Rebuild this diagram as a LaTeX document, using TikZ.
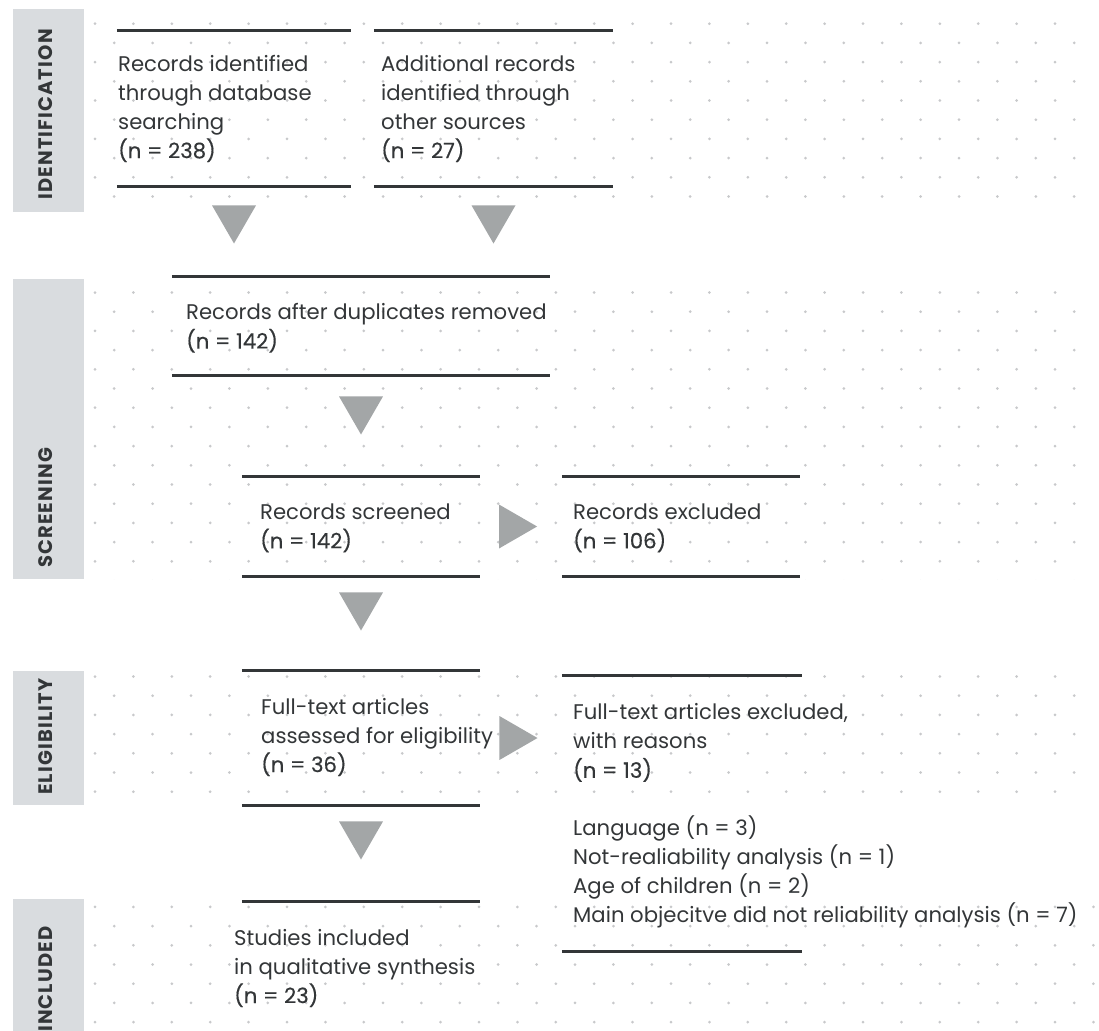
\documentclass[tikz,border=0pt]{standalone}
\usepackage{fontspec}
\setmainfont{Poppins}
\newfontfamily\countfont{Poppins}[FakeBold=0.4]
\usetikzlibrary{positioning,shapes.geometric}

\definecolor{ink}{RGB}{51,54,56}
\definecolor{bargray}{RGB}{217,220,223}
\definecolor{arrowgray}{RGB}{163,166,167}
\definecolor{dotgray}{RGB}{200,201,203}

\newcommand{\cnt}[1]{{\countfont #1}}

\begin{document}
\begin{tikzpicture}[
    x=1pt, y=-1pt,
    node distance=18pt,
    frame/.style={inner sep=0pt},
    txt/.style={anchor=west, align=left, inner sep=0pt, text=ink, font=\fontsize{21.2}{29}\selectfont},
    section/.style={rotate=90, anchor=west, inner sep=0pt, text=ink, font=\fontsize{19.5}{19.5}\selectfont\bfseries\addfontfeatures{LetterSpace=6}},
    band/.style={fill=bargray},
    rule/.style={draw=ink, line width=3pt},
    tridown/.style={regular polygon, regular polygon sides=3, shape border rotate=180, fill=arrowgray, minimum size=50.8pt, inner sep=0pt},
    triright/.style={regular polygon, regular polygon sides=3, shape border rotate=-90, fill=arrowgray, minimum size=50.8pt, inner sep=0pt}
]

\useasboundingbox (0,0) rectangle (1099,1030);

% Dotted background
\begin{scope}
\clip (90,9) rectangle (1078,212) (90,279) rectangle (1078,579) (90,671) rectangle (1078,805) (90,899) rectangle (1099,1030);
\foreach \k in {0,...,52}
  \foreach \i in {0,...,26}
    \fill[dotgray] ({95+38.4*\i+19.2*mod(\k,2)},{23.7+19.2*\k}) circle (1.5pt);
\end{scope}

% Section bars
\fill[band] (13,9) rectangle (84,212);
\fill[band] (13,279) rectangle (84,579);
\fill[band] (13,671) rectangle (84,805);
\fill[band] (13,899) rectangle (84,1043);
\node[section] (ident) at (46,200) {IDENTIFICATION};
\node[section] (screen) at (46,568) {SCREENING};
\node[section] (elig) at (46,795) {ELIGIBILITY};
\node[section] (incl) at (46,1032) {INCLUDED};

% Frames
\node[frame, minimum width=234pt, minimum height=155pt] (recA) at (234,108.5) {};
\node[frame, minimum width=239pt, minimum height=155pt] (recB) at (493.5,108.5) {};
\node[frame, minimum width=378pt, minimum height=98pt] (recC) at (361,326) {};
\node[frame, minimum width=238pt, minimum height=99pt] (recD) at (361,526.5) {};
\node[frame, minimum width=238pt, minimum height=99pt] (recE) at (681,526.5) {};
\node[frame, minimum width=238pt, minimum height=134pt] (recG) at (361,738) {};
\node[frame, minimum width=240pt, minimum height=275pt] (recF) at (682,813.5) {};
\node[frame, minimum width=238pt, minimum height=128pt] (recH) at (361,966) {};

\foreach \b in {recA,recB,recC,recD,recE,recG,recF}
  \draw[rule] (\b.north west) -- (\b.north east) (\b.south west) -- (\b.south east);
\draw[rule] (recH.north west) -- (recH.north east);

% Texts
\node[txt] (txtA) at (118,108.5) {Records identified\\through database\\searching\\\cnt{(n = 238)}};
\node[txt] (txtB) at (381,108.5) {Additional records\\identified through\\other sources\\\cnt{(n = 27)}};
\node[txt] (txtC) at (186,328) {Records after duplicates removed\\\cnt{(n = 142)}};
\node[txt] (txtD) at (260,528) {Records screened\\\cnt{(n = 142)}};
\node[txt] (txtE) at (573,528) {Records excluded\\\cnt{(n = 106)}};
\node[txt] (txtG) at (261,737) {Full-text articles\\assessed for eligibility\\\cnt{(n = 36)}};
\node[txt] (txtF) at (573,816) {Full-text articles excluded,\\with reasons\\\cnt{(n = 13)}\\[29pt]Language (n = 3)\\Not-realiability analysis (n = 1)\\Age of children (n = 2)\\Main objecitve did not reliability analysis (n = 7)};
\node[txt] (txtH) at (234,968) {Studies included\\in qualitative synthesis\\\cnt{(n = 23)}};

% Arrows
\node[tridown, below=19pt of recA] (arrA) {};
\node[tridown, below=19pt of recB] (arrB) {};
\node[tridown, below=21pt of recC] (arrC) {};
\node[tridown, below=16pt of recD] (arrD) {};
\node[tridown, below=16pt of recG] (arrG) {};
\node[triright, right=18.6pt of recD] (arrDE) {};
\node[triright, right=19pt of recG] (arrGF) {};

\end{tikzpicture}
\end{document}
